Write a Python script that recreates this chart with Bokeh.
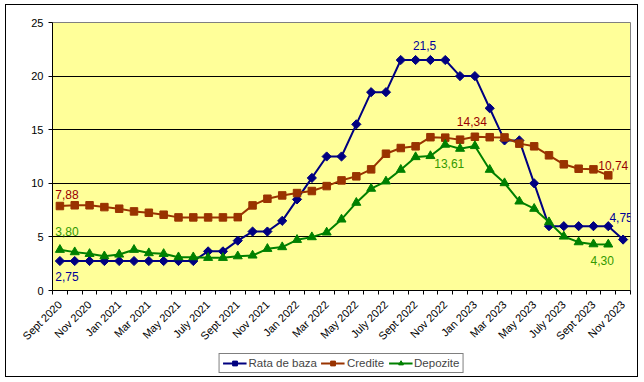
import math
from bokeh.plotting import figure
from bokeh.layouts import column
from bokeh.models import (ColumnDataSource, FixedTicker, Legend, LegendItem, Range1d, LabelSet)
from bokeh.core.properties import value
from bokeh.embed import file_html
from bokeh.resources import INLINE

# ---- data ----
months = ["Sept 2020", "Oct 2020", "Nov 2020", "Dec 2020", "Jan 2021", "Feb 2021", "Mar 2021",
          "Apr 2021", "May 2021", "June 2021", "July 2021", "Aug 2021", "Sept 2021", "Oct 2021",
          "Nov 2021", "Dec 2021", "Jan 2022", "Feb 2022", "Mar 2022", "Apr 2022", "May 2022",
          "June 2022", "July 2022", "Aug 2022", "Sept 2022", "Oct 2022", "Nov 2022", "Dec 2022",
          "Jan 2023", "Feb 2023", "Mar 2023", "Apr 2023", "May 2023", "June 2023", "July 2023",
          "Aug 2023", "Sept 2023", "Oct 2023", "Nov 2023"]
tick_labels = ["Sept 2020", "Nov 2020", "Jan 2021", "Mar 2021", "May 2021", "July 2021",
               "Sept 2021", "Nov 2021", "Jan 2022", "Mar 2022", "May 2022", "July 2022",
               "Sept 2022", "Nov 2022", "Jan 2023", "Mar 2023", "May 2023", "July 2023",
               "Sept 2023", "Nov 2023"]

rata_de_baza = [2.75, 2.75, 2.75, 2.75, 2.75, 2.75, 2.75, 2.75, 2.75, 2.75,
                3.65, 3.65, 4.65, 5.5, 5.5, 6.5, 8.5, 10.5, 12.5, 12.5,
                15.5, 18.5, 18.5, 21.5, 21.5, 21.5, 21.5, 20.0, 20.0, 17.0,
                14.0, 14.0, 10.0, 6.0, 6.0, 6.0, 6.0, 6.0, 4.75]
credite = [7.88, 7.95, 7.95, 7.78, 7.63, 7.38, 7.25, 7.07, 6.82, 6.82,
           6.82, 6.82, 6.84, 7.94, 8.56, 8.87, 9.09, 9.28, 9.74, 10.27,
           10.65, 11.3, 12.76, 13.29, 13.45, 14.3, 14.26, 14.07, 14.34, 14.3,
           14.28, 13.7, 13.45, 12.61, 11.77, 11.36, 11.3, 10.74]
depozite = [3.80, 3.58, 3.42, 3.2, 3.36, 3.8, 3.49, 3.42, 3.11, 3.11,
            3.05, 3.05, 3.2, 3.27, 3.89, 4.05, 4.73, 4.98, 5.42, 6.63,
            8.19, 9.5, 10.18, 11.27, 12.45, 12.55, 13.61, 13.23, 13.48, 11.27,
            10.02, 8.31, 7.63, 6.38, 5.04, 4.51, 4.32, 4.30]

series_names = ["Rata de baza", "Credite", "Depozite"]

# value labels: (series, index, text)
ann_series = ["Rata de baza", "Rata de baza", "Rata de baza", "Credite", "Credite", "Credite",
              "Depozite", "Depozite", "Depozite"]
ann_index = [0, 24, 38, 0, 28, 37, 0, 26, 37]
ann_text = ["2,75", "21,5", "4,75", "7,88", "14,34", "10,74", "3,80", "13,61", "4,30"]

# ---- styles ----
BLUE, BROWN, GREEN = "#000080", "#993300", "#008000"
LBL_COL = {"Rata de baza": "#000099", "Credite": "#990000", "Depozite": "#339900"}
ann_dx = [7, 9, -2, 7, -3, 5, 7, 4, -6]
ann_dy = [-15, 15, 22, 12, 15, 10, 18, -19, -16]
FONT = "Liberation Sans"
MARK = {"Rata de baza": dict(marker="square", angle=math.pi / 4, size=6.5, color=BLUE),
        "Credite": dict(marker="square", angle=0, size=7.5, color=BROWN),
        "Depozite": dict(marker="triangle", angle=0, size=9, color=GREEN)}
BORDERS = dict(min_border_left=46, min_border_right=7)

p = figure(width=631, height=346, output_backend="svg", toolbar_location=None,
           x_range=Range1d(-0.5, len(months) - 0.5), y_range=Range1d(0, 25),
           min_border_top=17, min_border_bottom=61, **BORDERS,
           background_fill_color="#FFFF99", border_fill_color="white")
p.outline_line_color = "#808080"
p.outline_line_width = 1

# axes
p.xaxis.ticker = FixedTicker(ticks=list(range(0, len(months), 2)),
                             minor_ticks=[i - 0.5 for i in range(len(months) + 1)])
p.xaxis.major_label_overrides = {i * 2: t for i, t in enumerate(tick_labels)}
p.xaxis.major_label_orientation = math.pi / 4
p.xaxis.major_tick_out = 0
p.xaxis.major_tick_in = 0
p.xaxis.minor_tick_out = 4
p.xaxis.minor_tick_in = 0
p.xaxis.minor_tick_line_color = "black"
p.xaxis.axis_line_color = "black"
p.xaxis.major_label_standoff = 8
p.xaxis.major_label_text_font = FONT
p.xaxis.major_label_text_font_size = "11px"
p.xaxis.major_label_text_color = "black"

p.yaxis.ticker = FixedTicker(ticks=[0, 5, 10, 15, 20, 25])
p.yaxis.major_tick_out = 4
p.yaxis.major_tick_in = 0
p.yaxis.minor_tick_line_color = None
p.yaxis.axis_line_color = "black"
p.yaxis.major_label_standoff = 5
p.yaxis.major_label_text_font = FONT
p.yaxis.major_label_text_font_size = "11px"
p.yaxis.major_label_text_color = "black"

p.xgrid.grid_line_color = None
p.ygrid.ticker = FixedTicker(ticks=[5, 10, 15, 20])
p.ygrid.grid_line_color = "black"
p.ygrid.grid_line_width = 1

# series
data = {"Rata de baza": rata_de_baza, "Credite": credite, "Depozite": depozite}
for name in series_names:
    ys = data[name]
    m = MARK[name]
    p.line(list(range(len(ys))), ys, line_color=m["color"], line_width=2)
    p.scatter(list(range(len(ys))), ys, marker=m["marker"], angle=m["angle"], size=m["size"],
              fill_color=m["color"], line_color=m["color"])

# value labels
src = ColumnDataSource(dict(
    x=ann_index,
    y=[data[s][i] for s, i in zip(ann_series, ann_index)],
    t=ann_text,
    c=[LBL_COL[s] for s in ann_series],
    dx=ann_dx,
    dy=ann_dy,
))
labels = LabelSet(x="x", y="y", text="t", source=src, text_color="c",
                  x_offset="dx", y_offset="dy", text_align="center",
                  text_baseline="middle", text_font=value(FONT), text_font_size="12px")
p.add_layout(labels)

# legend strip (separate figure so it sits below the rotated tick labels);
# its y-range lies above all values, so the series drawn there stay out of view
p2 = figure(width=631, height=25, output_backend="svg", toolbar_location=None,
            x_axis_type=None, y_axis_type=None, **BORDERS,
            x_range=Range1d(-0.5, len(months) - 0.5), y_range=Range1d(100, 101),
            min_border_top=2, min_border_bottom=0, outline_line_color=None,
            background_fill_color="white", border_fill_color="white")
p2.xgrid.visible = False
p2.ygrid.visible = False
items = []
for name in series_names:
    ys = data[name]
    m = MARK[name]
    rl = p2.line(list(range(len(ys))), ys, line_color=m["color"], line_width=2)
    rm = p2.scatter(list(range(len(ys))), ys, marker=m["marker"], angle=m["angle"],
                    size=m["size"], fill_color=m["color"], line_color=m["color"])
    items.append(LegendItem(label=name, renderers=[rl, rm]))
legend = Legend(items=items, orientation="horizontal", location="top_center",
                border_line_color="black", border_line_width=1,
                background_fill_color="white", background_fill_alpha=1,
                label_text_font=FONT, label_text_font_size="11.5px",
                glyph_width=24, glyph_height=12, label_standoff=2, spacing=4,
                padding=3, margin=0, label_height=12)
p2.add_layout(legend, "center")

layout = column(p, p2, spacing=0, margin=(4, 0, 0, 5),
                styles={"border": "1px solid black"})

open("out.html", "w").write(file_html(layout, INLINE))
